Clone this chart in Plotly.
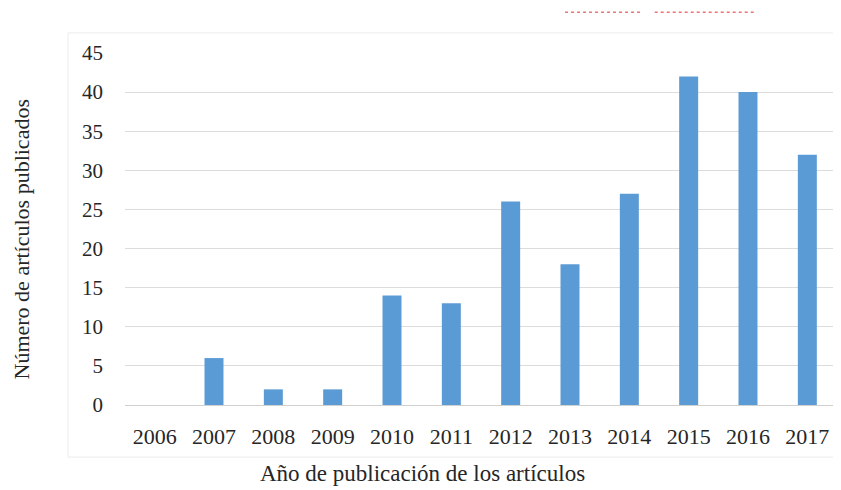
import plotly.graph_objects as go

years = ["2006", "2007", "2008", "2009", "2010", "2011", "2012", "2013", "2014", "2015", "2016", "2017"]
articles = [0, 6, 2, 2, 14, 13, 26, 18, 27, 42, 40, 32]
y_ticks = [0, 5, 10, 15, 20, 25, 30, 35, 40, 45]
x_title = "Año de publicación de los artículos"
y_title = "Número de artículos publicados"

fig = go.Figure()
fig.add_trace(go.Bar(x=years, y=articles, marker_color="#5b9bd5", marker_line_width=0))

font_family = "Liberation Serif, Times New Roman, serif"
text_color = "#262626"
fig.update_layout(
    width=833, height=482,
    margin=dict(l=117, r=4, t=45, b=85),
    paper_bgcolor="white", plot_bgcolor="white",
    bargap=0.68,
    showlegend=False,
    font=dict(family=font_family, color=text_color),
    xaxis=dict(
        type="category",
        tickfont=dict(size=22, family=font_family, color=text_color),
        showgrid=False, showline=True, linecolor="#d0d0d0", linewidth=1,
        ticks="", ticklabelstandoff=12,
    ),
    yaxis=dict(
        range=[0, 45], tickvals=y_ticks,
        tickfont=dict(size=21, family=font_family, color=text_color),
        showgrid=True, gridcolor="#dcdcdc", gridwidth=1,
        zeroline=False, showline=False, ticks="", ticklabelstandoff=21,
    ),
)
fig.add_annotation(text=x_title, xref="paper", yref="paper", x=0.4185, y=-0.196,
                   showarrow=False, xanchor="center", yanchor="middle", borderpad=0,
                   font=dict(size=23, family=font_family, color=text_color))
fig.add_annotation(text=y_title, xref="paper", yref="paper", x=-0.144, y=0.4716,
                   showarrow=False, xanchor="center", yanchor="middle", textangle=-90, borderpad=0,
                   font=dict(size=22, family=font_family, color=text_color))
# faint chart frame
fig.add_shape(type="rect", xref="paper", yref="paper", x0=-0.080, x1=1.004, y0=-0.148, y1=1.057,
              line=dict(color="#ececec", width=1))
# red dashed marks at top
fig.add_shape(type="line", xref="paper", yref="paper", x0=0.618, x1=0.726, y0=1.116, y1=1.116,
              line=dict(color="#e03030", width=1, dash="dot"))
fig.add_shape(type="line", xref="paper", yref="paper", x0=0.744, x1=0.885, y0=1.116, y1=1.116,
              line=dict(color="#e03030", width=1, dash="dot"))

fig.write_html("out.html")
